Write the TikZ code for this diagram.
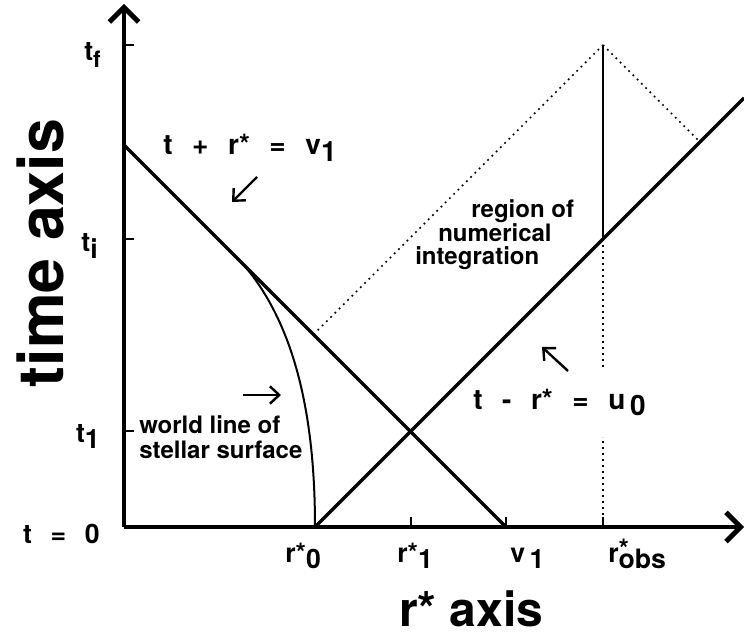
\documentclass[tikz,border=0pt]{standalone}
\usepackage{fontspec}
\setmainfont{TeX Gyre Heros}
\usetikzlibrary{arrows.meta}

\newcommand\lo[1]{\raisebox{-0.45ex}{#1}}
\newcommand\gap{\hspace{0.7em}}

\begin{document}
\begin{tikzpicture}[
    x=0.75pt, y=-0.75pt,
    axis/.style={line width=3.6pt, -{Straight Barb[length=11pt,width=22pt]}},
    ray/.style={line width=2.4pt},
    worldline/.style={line width=1.5pt},
    observer/.style={line width=1.8pt},
    dots/.style={line width=1.3pt, dash pattern=on 1.3pt off 3.2pt},
    tickmark/.style={line width=1.4pt},
    pointer/.style={line width=1.8pt, -{Straight Barb[length=7pt,width=13pt]}},
    every node/.style={inner sep=0pt, font=\fontsize{20}{22}\selectfont\bfseries},
    txt/.style={font=\fontsize{18}{20}\selectfont\bfseries}
]
\useasboundingbox (0,0) rectangle (744,635);

% ================= points =================

\coordinate (O)     at (124,527);
\coordinate (yend)  at (124,4);
\coordinate (xend)  at (744,527);

\coordinate (r0)    at (315,527);
\coordinate (r1)    at (411,527);
\coordinate (v1)    at (506,527);
\coordinate (robs)  at (603,527);

\coordinate (t1)    at (124,431);
\coordinate (ti)    at (124,239);
\coordinate (tf)    at (124,45);

\coordinate (vtop)  at (124,145);
\coordinate (uend)  at (744,98);
\coordinate (obsi)  at (603,239);
\coordinate (obsf)  at (603,45);
\coordinate (dotl)  at (313.5,334.5);
\coordinate (dotr)  at (700,142);
\coordinate (star)  at (243,264);
\coordinate (gapA)  at (603,437);
\coordinate (gapB)  at (603,367);

% ================= axes =================

\draw[axis] (O)--(yend);
\draw[axis] (O)--(xend);

\draw[tickmark] (t1)--++(10,0);
\draw[tickmark] (ti)--++(10,0);
\draw[tickmark] (tf)--++(10,0);
\draw[tickmark] (r1)--++(0,-10);
\draw[tickmark] (v1)--++(0,-10);
\draw[tickmark] (robs)--++(0,-10);

\node[anchor=base east] (lt0) at (100,543) {t\gap=\gap0};
\node[anchor=base east] (lt1) at (100,442) {t\lo{1}};
\node[anchor=base east] (lti) at (98,252)  {t\lo{i}};
\node[anchor=base east] (ltf) at (101,61)  {t\lo{\fontsize{17}{19}\selectfont f}};

\node[anchor=base west] (lr0)   at (285,562) {r*\lo{0}};
\node[anchor=base west] (lr1)   at (397,562) {r*\lo{1}};
\node[anchor=base west] (lv1)   at (510,562) {v\,\lo{1}};
\node[anchor=base west] (lrobs) at (608,562) {r\rlap{\raisebox{0.25ex}{*}}\lo{obs}};

\node[anchor=base, rotate=90, font=\fontsize{47}{50}\selectfont\bfseries] (ylabel) at (64,253) {time axis};
\node[anchor=base west, font=\fontsize{36}{38}\selectfont\bfseries] (xlabel) at (399,626) {r* axis};

% ================= characteristics =================

\draw[ray] (vtop)--(v1);
\draw[ray] (r0)--(uend);

\draw[worldline] (r0) .. controls (315,430) and (300,330) .. (star);

\draw[observer] (obsi)--(obsf);
\draw[dots] (robs)--(gapA);
\draw[dots] (gapB)--(obsi);
\draw[dots] (dotl)--(obsf);
\draw[dots] (obsf)--(dotr);

% ================= labels =================

\node[anchor=base west, font=\fontsize{21}{23}\selectfont\bfseries] (eqv) at (163,155) {t\gap+\gap r*\gap=\gap v\lo{1}};
\node[anchor=base west, font=\fontsize{21}{23}\selectfont\bfseries] (equ) at (473,409) {t\gap-\gap r*\gap=\gap u\,\lo{0}};

\node[txt, anchor=base west] (wl1) at (139,433) {world line of};
\node[txt, anchor=base west] (wl2) at (139,458) {stellar surface};

\node[txt, anchor=base west] (rg1) at (471,218) {region of};
\node[txt, anchor=base west] (rg2) at (438,242) {numerical};
\node[txt, anchor=base west] (rg3) at (415,265) {integration};

\coordinate (pv0) at (257,177);
\coordinate (pv1) at (232,202);
\coordinate (pw0) at (243,395);
\coordinate (pw1) at (281,395);
\coordinate (pu0) at (568,371);
\coordinate (pu1) at (542,347);

\draw[pointer] (pv0)--(pv1);
\draw[pointer] (pw0)--(pw1);
\draw[pointer] (pu0)--(pu1);

\end{tikzpicture}
\end{document}
